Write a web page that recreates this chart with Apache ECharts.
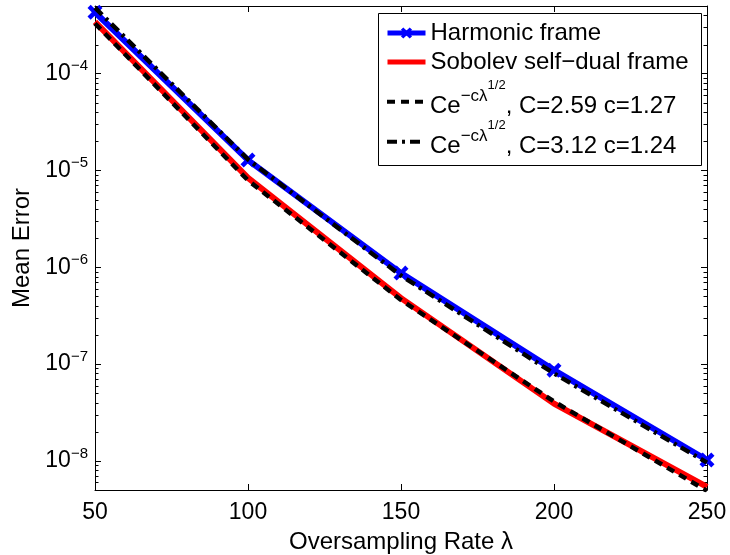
<!DOCTYPE html>
<html><head><meta charset="utf-8">
<script src="https://cdn.jsdelivr.net/npm/echarts@6/dist/echarts.min.js"></script>
<style>html,body{margin:0;padding:0;background:#fff}#c{width:730px;height:555px}</style>
</head><body><div id="c"></div>
<script>
// ---- data ----
const lambdaValues = [50, 100, 150, 200, 250];
const harmonicError = [4.31e-4, 1.28e-5, 8.7e-7, 8.65e-8, 1.02e-8];
const sobolevError  = [3.43e-4, 8.4e-6, 4.8e-7, 3.9e-8, 5.4e-9];
const fitDashed     = [3.3e-4, 7.9e-6, 4.6e-7, 4.1e-8, 4.9e-9];   // C=2.59 c=1.27
const fitDashDot    = [4.8e-4, 1.3e-5, 8.2e-7, 8.0e-8, 9.6e-9];   // C=3.12 c=1.24
const xTickValues = [50, 100, 150, 200, 250];
const yMajorExponents = [-8, -7, -6, -5, -4];
const yMinorTicks = [6e-9,7e-9,8e-9,9e-9,
  2e-8,3e-8,4e-8,5e-8,6e-8,7e-8,8e-8,9e-8,
  2e-7,3e-7,4e-7,5e-7,6e-7,7e-7,8e-7,9e-7,
  2e-6,3e-6,4e-6,5e-6,6e-6,7e-6,8e-6,9e-6,
  2e-5,3e-5,4e-5,5e-5,6e-5,7e-5,8e-5,9e-5,
  2e-4,3e-4,4e-4];
const seriesNames = ['Harmonic frame', 'Sobolev self\u2212dual frame',
  'Ce\u2212c\u03bb1/2, C=2.59 c=1.27', 'Ce\u2212c\u03bb1/2, C=3.12 c=1.24'];
const fitLabels = [', C=2.59 c=1.27', ', C=3.12 c=1.24'];
const xName = 'Oversampling Rate \u03bb';
const yName = 'Mean Error';

const FONT = '"Liberation Sans", Arial, Helvetica, sans-serif';
const xMin = xTickValues[0], xMax = xTickValues[xTickValues.length - 1];
const yMin = 5e-9, yMax = 5e-4;
const zip = (xs, ys) => xs.map((x, i) => [x, ys[i]]);
const X_PATH = 'path://M3,0 L7,4 L11,0 L14,3 L10,7 L14,11 L11,14 L7,10 L3,14 L0,11 L4,7 L0,3 Z';

const chart = echarts.init(document.getElementById('c'), null, {renderer: 'canvas'});

const legendRich = {
  m:  {fontSize: 24, fontFamily: FONT, color: '#000', verticalAlign: 'top', lineHeight: 46, padding: [16, 0, 0, 0]},
  s:  {fontSize: 17, fontFamily: FONT, color: '#000', verticalAlign: 'top', padding: [9.5, 0, 0, 0]},
  ss: {fontSize: 13, fontFamily: FONT, color: '#000', verticalAlign: 'top', padding: [0.7, 0, 0, 0]}
};
function legendFormatter(name) {
  const k = seriesNames.indexOf(name);
  if (k >= 2) return '{m|Ce}{s|\u2212c\u03bb}{ss|1/2}{m|' + fitLabels[k - 2] + '}';
  return name;
}
function mkLegend(name, top, hideSymbol, lineWidth) {
  const lg = {
    data: [name], orient: 'vertical', left: 385, top: top, padding: 0,
    itemWidth: 38, itemHeight: 14, itemGap: 0, selectedMode: false,
    formatter: legendFormatter,
    lineStyle: {width: lineWidth},
    textStyle: {fontSize: 24, fontFamily: FONT, color: '#000', rich: legendRich}
  };
  if (hideSymbol) lg.itemStyle = {opacity: 0};
  return lg;
}

const axisLineStyle = {color: '#000', width: 1};
const option = {
  animation: false,
  backgroundColor: '#fff',
  grid: {left: 95, right: 23, top: 6, bottom: 65, containLabel: false, outerBoundsMode: 'none'},
  graphic: [{
    type: 'rect', z: 3,
    shape: {x: 378.5, y: 13.5, width: 323, height: 152},
    style: {fill: '#fff', stroke: '#000', lineWidth: 1}
  }],
  legend: [
    mkLegend(seriesNames[0], 33 - 12, false, 5),
    mkLegend(seriesNames[1], 62 - 12, true, 5),
    mkLegend(seriesNames[2], 101.7 - 23, true, 4),
    mkLegend(seriesNames[3], 141.7 - 23, true, 4)
  ],
  xAxis: [{
    type: 'value', min: xMin, max: xMax, interval: 50, position: 'bottom',
    axisLine: {show: true, onZero: false, lineStyle: axisLineStyle},
    axisTick: {show: true, inside: true, length: 6, lineStyle: axisLineStyle},
    axisLabel: {color: '#000', fontSize: 23, fontFamily: FONT, margin: 11},
    splitLine: {show: false},
    name: xName, nameLocation: 'middle', nameGap: 40,
    nameTextStyle: {color: '#000', fontSize: 24, fontFamily: FONT}
  }, {
    type: 'value', min: xMin, max: xMax, interval: 50, position: 'top',
    axisLine: {show: true, onZero: false, lineStyle: axisLineStyle},
    axisTick: {show: true, inside: true, length: 6, lineStyle: axisLineStyle},
    axisLabel: {show: false}, splitLine: {show: false}
  }],
  yAxis: [{
    type: 'log', logBase: 10, min: yMin, max: yMax, position: 'left',
    axisLine: {show: true, onZero: false, lineStyle: axisLineStyle},
    axisTick: {show: true, inside: true, length: 6, lineStyle: axisLineStyle},
    axisLabel: {
      color: '#000', margin: 7,
      formatter: function (v) {
        const e = Math.log10(v);
        const r = Math.round(e);
        if (Math.abs(e - r) > 0.01 || yMajorExponents.indexOf(r) < 0) return '';
        return '{b|10}{e|\u2212' + (-r) + '}';
      },
      rich: {
        b: {fontSize: 23, fontFamily: FONT, color: '#000', verticalAlign: 'top', lineHeight: 30, padding: [3.5, 0, 0, 0]},
        e: {fontSize: 15, fontFamily: FONT, color: '#000', verticalAlign: 'top', padding: [0, 0, 0, 0]}
      }
    },
    splitLine: {show: false}, minorTick: {show: false},
    name: yName, nameLocation: 'middle', nameGap: 46,
    nameTextStyle: {color: '#000', fontSize: 24, fontFamily: FONT}
  }, {
    type: 'log', logBase: 10, min: yMin, max: yMax, position: 'right',
    axisLine: {show: true, onZero: false, lineStyle: axisLineStyle},
    axisTick: {show: true, inside: true, length: 6, lineStyle: axisLineStyle},
    axisLabel: {show: false}, splitLine: {show: false}
  }],
  series: [
    {
      type: 'custom', name: 'minorTicks', xAxisIndex: 0, yAxisIndex: 0, silent: true, z: 1,
      data: yMinorTicks.map(v => [xMin, v]),
      renderItem: function (params, api) {
        const v = api.value(1);
        const pL = api.coord([xMin, v]);
        const pR = api.coord([xMax, v]);
        const y = Math.round(pL[1]) + 0.5;
        return {type: 'group', children: [
          {type: 'line', shape: {x1: pL[0], y1: y, x2: pL[0] + 3.5, y2: y}, style: {stroke: '#000', lineWidth: 1}},
          {type: 'line', shape: {x1: pR[0], y1: y, x2: pR[0] - 3.5, y2: y}, style: {stroke: '#000', lineWidth: 1}}
        ]};
      }
    },
    {
      type: 'line', name: seriesNames[0], data: zip(lambdaValues, harmonicError),
      lineStyle: {color: '#0000ff', width: 6}, itemStyle: {color: '#0000ff', borderWidth: 0},
      symbol: X_PATH, symbolSize: 15, showSymbol: true, z: 2,
      emphasis: {disabled: true}
    },
    {
      type: 'line', name: seriesNames[1], data: zip(lambdaValues, sobolevError),
      lineStyle: {color: '#ff0000', width: 6}, itemStyle: {color: '#ff0000'},
      symbol: 'none', z: 2, emphasis: {disabled: true}
    },
    {
      type: 'line', name: seriesNames[2], data: zip(lambdaValues, fitDashed),
      lineStyle: {color: '#000', width: 4.5, type: [8, 6]}, itemStyle: {color: '#000'},
      symbol: 'none', z: 3, emphasis: {disabled: true}
    },
    {
      type: 'line', name: seriesNames[3], data: zip(lambdaValues, fitDashDot),
      lineStyle: {color: '#000', width: 4.5, type: [10, 5, 3, 5]}, itemStyle: {color: '#000'},
      symbol: 'none', z: 3, emphasis: {disabled: true}
    }
  ]
};
chart.setOption(option);
</script>
</body></html>
